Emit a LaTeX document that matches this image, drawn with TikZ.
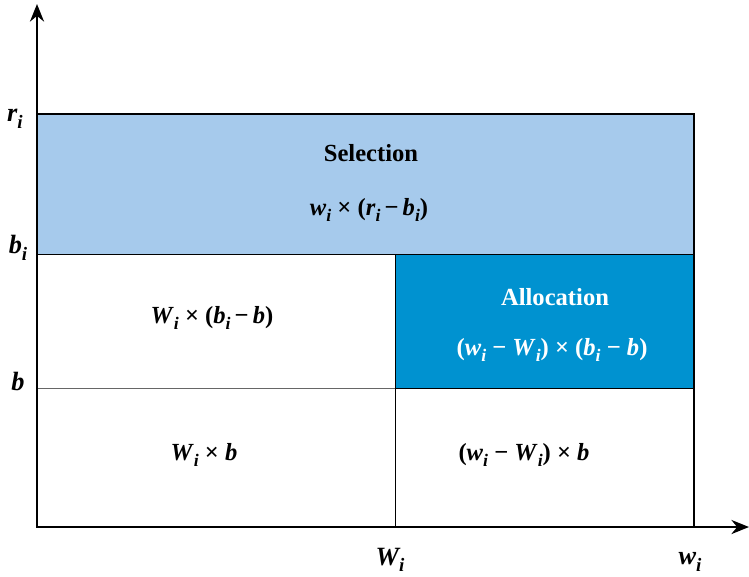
\documentclass[tikz,border=0pt]{standalone}
\usepackage{fontspec}
\setmainfont{Liberation Serif}
\usepackage{tikz}
\usetikzlibrary{arrows.meta,positioning}
\definecolor{selblue}{RGB}{166,202,236}
\definecolor{allocblue}{RGB}{0,146,208}
% italic letter with italic subscript
\newcommand{\vsub}[2]{\textit{#1}\raisebox{-0.55ex}{\scalebox{0.72}{\textit{#2}}}}

\begin{document}
\begin{tikzpicture}[x=0.02cm,y=-0.02cm,
    every node/.style={font=\fontsize{14}{16}\selectfont\bfseries},
    axis label/.style={font=\fontsize{15}{17}\selectfont\bfseries\itshape},
    axis/.style={line width=1.4pt,-{Stealth[length=10pt,width=8pt]}},
    frame/.style={line width=1.2pt},
    thin line/.style={line width=0.5pt}]
  \useasboundingbox (0,0) rectangle (749,576);
  % corners of the boxes
  \coordinate (o) at (37,527);
  \coordinate (rl) at (37,114);
  \coordinate (rr) at (694,114);
  \coordinate (bil) at (37,254);
  \coordinate (bim) at (395,254);
  \coordinate (bir) at (694,254);
  \coordinate (bl) at (37,388);
  \coordinate (bm) at (395,388);
  \coordinate (br) at (694,388);
  \coordinate (om) at (395,527);
  \coordinate (or) at (694,527);
  \coordinate (ytop) at (37,4);
  \coordinate (xend) at (749,527);
  % fills
  \fill[selblue] (rl) rectangle (bir);
  \fill[allocblue] (bim) rectangle (br);
  % inner lines
  \draw[thin line] (bil) -- (bir);
  \draw[thin line,black!60] (bl) -- (bm);
  \draw[thin line] (bm) -- (br);
  \draw[thin line] (bim) -- (om);
  \draw[frame] (rl) rectangle (or);
  % axes
  \draw[axis] (o) -- (ytop);
  \draw[axis] (o) -- (xend);
  % texts
  \node (sel) at (371,153) {Selection};
  \node (self) at (369,210) {\vsub{w}{i} × (\vsub{r}{i}\,−\,\vsub{b}{i})};
  \node[text=white] (alloc) at (555,297) {Allocation};
  \node[text=white] (allocf) at (552,350) {(\vsub{w}{i} − \vsub{W}{i}) × (\vsub{b}{i} − \textit{b})};
  \node (mid) at (212,318) {\vsub{W}{i} × (\vsub{b}{i}\,−\,\textit{b})};
  \node (low) at (204,455) {\vsub{W}{i} × \textit{b}};
  \node (lowr) at (524,455) {(\vsub{w}{i} − \vsub{W}{i}) × \textit{b}};
  \node[axis label] (ri) at (15,119) {\vsub{r}{i}};
  \node[axis label] (bi) at (18,248) {\vsub{b}{i}};
  \node[axis label] (b) at (18,381) {b};
  \node[axis label] (Wi) at (390,560) {\vsub{W}{i}};
  \node[axis label] (wi) at (690,562) {\vsub{w}{i}};
\end{tikzpicture}
\end{document}
